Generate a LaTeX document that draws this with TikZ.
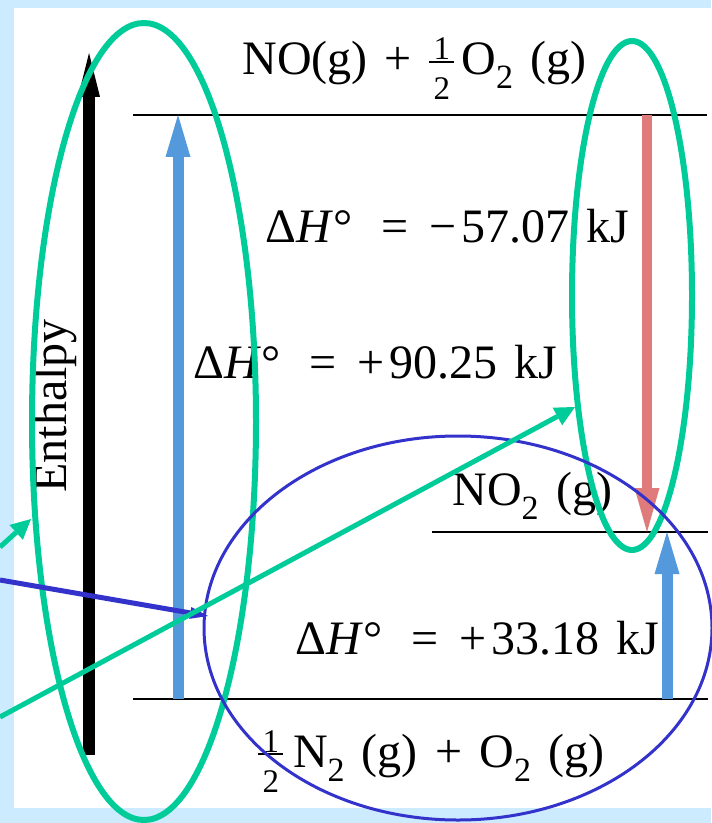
\documentclass[tikz,border=0pt]{standalone}
\usepackage{fontspec}
\setmainfont{Liberation Serif}
\usetikzlibrary{arrows.meta}

\definecolor{bgblue}{HTML}{CCEBFE}
\definecolor{markgreen}{HTML}{00CC99}
\definecolor{markblue}{HTML}{3333CC}
\definecolor{upblue}{HTML}{5599DD}
\definecolor{downred}{HTML}{E07B7B}

\newcommand{\txtfont}{\fontsize{24}{28}\selectfont\spaceskip=0.36em\relax}
\newcommand{\chemsub}[1]{\raisebox{-7pt}{\fontsize{17}{17}\selectfont #1}}
\newcommand{\halfsize}{\fontsize{16.5}{16.5}\selectfont}
\newcommand{\half}{\rlap{\makebox[12.5pt]{\raisebox{7.5pt}{\halfsize 1}}}%
  \rlap{\makebox[12.5pt]{\raisebox{-12.5pt}{\halfsize 2}}}\rule[6pt]{12.5pt}{0.9pt}}
\newcommand{\dHeq}[2]{Δ\textit{H}°\hspace{0.6em}=\hspace{0.45em}#1\hspace{0.1em}#2\hspace{0.35em}kJ}

\begin{document}
\begin{tikzpicture}[x=0.5pt, y=-0.5pt,
  level/.style={line width=1pt},
  txt/.style={font=\txtfont, inner sep=0pt, anchor=base west},
  enth/.style={line width=6pt, -{Triangle[length=22pt, width=11pt, line width=0pt]}},
  rise/.style={line width=5.5pt, upblue, -{Triangle[length=21pt, width=12.5pt, line width=0pt]}},
  fall/.style={line width=5pt, downred, -{Triangle[length=22pt, width=12.5pt, line width=0pt]}},
  ring/.style={markgreen, line width=3pt},
  pointer/.style={markgreen, line width=2.5pt, -{Triangle[length=10pt, width=10pt, line width=0pt]}},
  bluepointer/.style={markblue, line width=2.5pt, -{Triangle[length=9pt, width=6pt, line width=0pt]}}
]
  % Frame
  \fill[bgblue] (0,0) rectangle (711,823);
  \fill[white] (14,8) rectangle (711,808);
  \useasboundingbox (0,0) rectangle (711,823);

  % Energy levels
  \coordinate (hiL) at (133,115);  \coordinate (hiR) at (707,115);
  \coordinate (midL) at (432,532); \coordinate (midR) at (708,532);
  \coordinate (lowL) at (133,699); \coordinate (lowR) at (708,699);
  \draw[level] (hiL) -- (hiR);
  \draw[level] (midL) -- (midR);
  \draw[level] (lowL) -- (lowR);

  % Enthalpy axis
  \coordinate (axisBot) at (89,755);
  \coordinate (axisTop) at (89,53);
  \draw[enth] (axisBot) -- (axisTop);
  \node[font=\txtfont, inner sep=0pt, rotate=90, anchor=base] (enthalpy) at (66,406) {Enthalpy};

  % Steps between levels
  \coordinate (riseA) at (178,699); \coordinate (riseB) at (178,115);
  \coordinate (fallA) at (647,115); \coordinate (fallB) at (647,532);
  \coordinate (stepA) at (667,699); \coordinate (stepB) at (667,532);
  \draw[rise] (riseA) -- (riseB);
  \draw[fall] (fallA) -- (fallB);
  \draw[rise] (stepA) -- (stepB);

  % Species
  \node[txt] (noLevel) at (242,75) {NO(g) + \half\hspace{0.15em}O\chemsub{2} (g)};
  \node[txt] (noTwo) at (452,505) {NO\chemsub{2} (g)};
  \node[txt] (nTwo) at (258,767) {\half\hspace{0.2em}N\chemsub{2} (g) + O\chemsub{2} (g)};

  % Enthalpy changes
  \node[txt] (dHdown) at (265,243) {\dHeq{−}{57.07}};
  \node[txt] (dHup) at (193,378) {\dHeq{+}{90.25}};
  \node[txt] (dHstep) at (295,654) {\dHeq{+}{33.18}};

  % Markings
  \draw[ring] (144,421.5) ellipse [x radius=112, y radius=398.5];
  \draw[ring] (632,295.5) ellipse [x radius=60, y radius=254.5];
  \draw[markblue, line width=1.5pt] (458,628) ellipse [x radius=254, y radius=192];

  \coordinate (p1s) at (0,547);   \coordinate (p1e) at (31,519);
  \coordinate (p2s) at (0,580);   \coordinate (p2e) at (208,616);
  \coordinate (p3s) at (0,717);   \coordinate (p3e) at (575,407);
  \draw[pointer] (p1s) -- (p1e);
  \draw[bluepointer] (p2s) -- (p2e);
  \draw[pointer] (p3s) -- (p3e);
\end{tikzpicture}
\end{document}
